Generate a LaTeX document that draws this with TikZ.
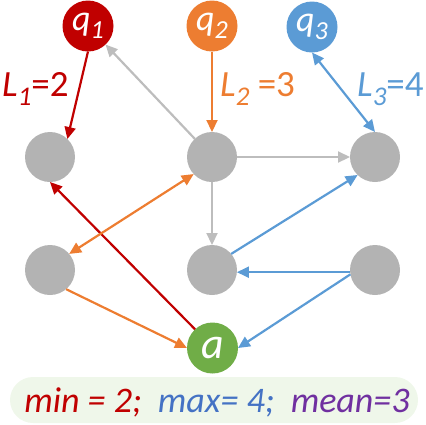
\documentclass[tikz,border=0pt]{standalone}
\usepackage{fontspec}
\setmainfont{Carlito}
\usetikzlibrary{arrows.meta}
\definecolor{cred}{HTML}{C00000}
\definecolor{corange}{HTML}{ED7D31}
\definecolor{cblue}{HTML}{5B9BD5}
\definecolor{cdblue}{HTML}{4472C4}
\definecolor{cpurple}{HTML}{7030A0}
\definecolor{cgreen}{HTML}{70AD47}
\definecolor{cgray}{HTML}{B3B3B3}
\definecolor{cagray}{HTML}{BDBDBD}
\definecolor{cbox}{HTML}{EFF7EA}
\newcommand{\mysub}[1]{\raisebox{-9pt}{\fontsize{27}{27}\selectfont\itshape #1}}
\newcommand{\qsub}[1]{\raisebox{-8pt}{\fontsize{26}{26}\selectfont\itshape #1}}
\begin{document}
\begin{tikzpicture}[x=1pt,y=-1pt,
  vtx/.style={circle,minimum size=50pt,inner sep=0pt,outer sep=0pt,fill=cgray},
  qnode/.style={circle,minimum size=51pt,inner sep=0pt,outer sep=0pt,text=white,font=\fontsize{36}{36}\selectfont\itshape},
  lbl/.style={anchor=base west,inner sep=0pt,font=\fontsize{37}{37}\selectfont},
  edge/.style={line width=2.2pt,-{Triangle[length=12pt,width=11pt]}},
  bedge/.style={line width=2.2pt,{Triangle[length=12pt,width=11pt]}-{Triangle[length=12pt,width=11pt]}}]
\useasboundingbox (0,0) rectangle (426,424);
% box
\node[draw=none,fill=cbox,rounded corners=23pt,minimum width=408pt,minimum height=46pt,inner sep=0pt] (box) at (214,400) {};
\node[anchor=base,inner sep=0pt,font=\fontsize{36}{36}\selectfont\itshape] (stats) at (217,412)
  {\textcolor{cred}{min = 2;}\ \ \textcolor{cdblue}{max= 4;}\ \ \textcolor{cpurple}{mean=3}};
% nodes
\node[qnode,fill=cred] (q1) at (88,26) {q\qsub{1}};
\node[qnode,fill=corange] (q2) at (212,26) {q\qsub{2}};
\node[qnode,fill=cblue] (q3) at (312,27) {q\qsub{3}};
\node[vtx] (l1) at (50,157) {};
\node[vtx] (m1) at (212,157) {};
\node[vtx] (r1) at (375,157) {};
\node[vtx] (l2) at (50,270) {};
\node[vtx] (m2) at (212,270) {};
\node[vtx] (r2) at (375,270) {};
\node[circle,minimum size=51pt,inner sep=0pt,outer sep=0pt,fill=cgreen,text=white,font=\fontsize{44}{44}\selectfont\itshape] (a) at (212.5,348) {a};
% labels
\node[lbl,text=cred] (L1) at (2,96) {\textit{L}\mysub{1}=2};
\node[lbl,text=corange] (L2) at (220,96) {\textit{L}\mysub{2} =3};
\node[lbl,text=cblue] (L3) at (357,96) {\textit{L}\mysub{3}=4};
% edges
\draw[edge,cagray] (m1) -- (q1);
\draw[edge,cagray] (m1) -- (r1);
\draw[edge,cagray] (m1) -- (m2);
\draw[edge,cred] (q1.south) -- (l1.46);
\draw[edge,corange] (q2) -- (m1);
\draw[bedge,cblue] (q3.south) -- (r1.north);
\draw[edge,cred] (a.133) -- (l1.south);
\draw[bedge,corange] (l2.40) -- (m1.-137);
\draw[edge,corange] (l2.-50) -- (a.180);
\draw[edge,cblue] (m2.40) -- (r1.-134);
\draw[edge,cblue] (r2.185) -- (m2.-5);
\draw[edge,cblue] (r2.190) -- (a.0);
\end{tikzpicture}
\end{document}
